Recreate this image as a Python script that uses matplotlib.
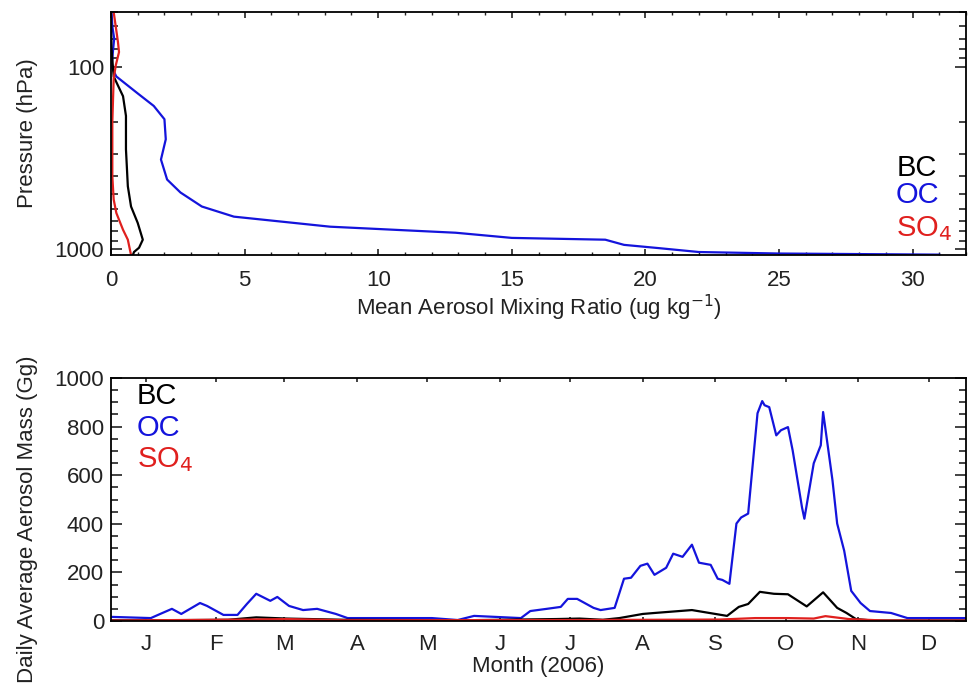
import matplotlib
matplotlib.use("Agg")
import matplotlib.pyplot as plt
from matplotlib.ticker import FixedLocator, FixedFormatter, MultipleLocator

plt.rcParams['font.family'] = ['Liberation Sans', 'DejaVu Sans']

# ---------------- Top panel: vertical profiles ----------------
p_oc = [50, 60, 70, 80, 90, 100, 113, 140, 164, 194, 250, 323, 416, 490, 585, 665, 755,
        815, 870, 890, 950, 990, 1040, 1060, 1075]
oc_prof = [0.02, 0.05, 0.12, 0.08, 0.05, 0.02, 0.2, 1.0, 1.6, 2.0, 2.05, 1.87, 2.1, 2.6, 3.4,
           4.6, 8.2, 12.9, 15.0, 18.5, 19.2, 20.5, 22.0, 25.0, 31.0]

p_bc = [50, 80, 113, 145, 186, 284, 453, 585, 720, 890, 985, 1040, 1080]
bc_prof = [0.0, 0.02, 0.1, 0.45, 0.56, 0.56, 0.63, 0.75, 1.0, 1.19, 1.05, 0.86, 0.82]

p_so4 = [50, 73, 83, 98, 116, 200, 400, 535, 635, 785, 890, 1080]
so4_prof = [0.1, 0.26, 0.3, 0.18, 0.1, 0.05, 0.05, 0.1, 0.2, 0.45, 0.63, 0.75]

# ---------------- Bottom panel: daily time series ----------------
days_oc = [0, 17, 21, 26, 30, 38, 41, 48, 54, 58, 62, 68, 71, 76, 82, 88, 96, 101, 123, 137,
           148, 155, 175, 179, 186, 192, 195, 199, 206, 209, 215, 219, 222, 226, 229, 232, 237,
           240, 244, 248, 251, 256, 259, 261, 264, 267, 269, 272, 274, 276, 278, 279, 281, 284,
           286, 289, 291, 295, 296, 300, 303, 304, 308, 310, 313, 316, 320, 324, 333, 340, 347, 365]
oc_mass = [17, 12, 29, 50, 29, 74, 62, 25, 25, 70, 112, 83, 99, 62, 45, 50, 29, 12, 12, 12,
           4, 21, 12, 41, 50, 58, 91, 91, 54, 45, 54, 174, 178, 227, 236, 190, 219,
           277, 264, 314, 240, 231, 174, 169, 153, 401, 426, 442, 649, 855, 905, 888, 880, 764,
           785, 798, 702, 467, 421, 649, 723, 860, 579, 401, 289, 124, 74, 41, 33, 12, 12, 12]

days_bc = [0, 20, 50, 62, 75, 100, 150, 190, 200, 210, 217, 227, 232, 248, 263, 268, 272, 277,
           283, 289, 297, 304, 310, 314, 318, 325, 365]
bc_mass = [3, 3, 5, 15, 10, 5, 3, 8, 10, 5, 12, 29, 33, 45, 21, 58, 70, 120,
           112, 110, 60, 118, 54, 33, 8, 2, 2]

days_so4 = [0, 60, 75, 100, 200, 230, 260, 275, 289, 300, 305, 315, 330, 365]
so4_mass = [2, 6, 8, 3, 4, 5, 6, 12, 12, 10, 20, 8, 2, 2]

month_labels = ['J', 'F', 'M', 'A', 'M', 'J', 'J', 'A', 'S', 'O', 'N', 'D']
month_mid = [15, 45, 74, 105, 135, 166, 196, 227, 258, 288, 319, 349]

BLUE = '#1414dc'
RED = '#e0201e'
BLACK = '#000000'
TXT = '#222222'
LW = 1.6
FS = 16
LEG = 21

fig = plt.figure(figsize=(9.68, 6.88), dpi=100)

# ---- top axes
ax1 = fig.add_axes([111/968, 1 - 255/688, (966-111)/968, (255-12)/688])
ax1.plot(oc_prof, p_oc, color=BLUE, lw=LW)
ax1.plot(bc_prof, p_bc, color=BLACK, lw=LW)
ax1.plot(so4_prof, p_so4, color=RED, lw=LW)
ax1.set_yscale('log')
ax1.set_ylim(1080, 50)
ax1.set_xlim(0, 32)
ax1.yaxis.set_major_locator(FixedLocator([100, 1000]))
ax1.yaxis.set_major_formatter(FixedFormatter(['100', '1000']))
ax1.yaxis.set_minor_locator(FixedLocator([50, 60, 70, 80, 90, 200, 300, 400, 500, 600, 700, 800, 900]))
ax1.yaxis.set_minor_formatter(FixedFormatter([''] * 13))
ax1.xaxis.set_major_locator(MultipleLocator(5))
ax1.xaxis.set_minor_locator(MultipleLocator(1))
ax1.tick_params(axis='both', which='both', direction='in', top=True, right=True,
                labelsize=FS, colors=TXT)
ax1.tick_params(axis='y', which='major', length=8, width=1.2, pad=5)
ax1.tick_params(axis='y', which='minor', length=5, width=1.2)
ax1.tick_params(axis='x', which='major', length=4, width=1.2, pad=11)
ax1.tick_params(axis='x', which='minor', length=2.5, width=1.0)
ax1.set_ylabel('Pressure (hPa)', fontsize=FS, color=TXT, labelpad=12)
ax1.set_xlabel('Mean Aerosol Mixing Ratio (ug kg$^{-1}$)', fontsize=FS, color=TXT, labelpad=1)
for sp in ax1.spines.values():
    sp.set_linewidth(1.3)
t_kw = dict(transform=ax1.transAxes, fontsize=LEG, ha='right', va='center')
ax1.text(0.966, 0.36, 'BC', color=BLACK, **t_kw)
ax1.text(0.969, 0.245, 'OC', color=BLUE, **t_kw)
ax1.text(0.984, 0.11, 'SO$_4$', color=RED, **t_kw)

# ---- bottom axes
ax2 = fig.add_axes([111/968, 1 - 621/688, (966-111)/968, (621-378)/688])
ax2.plot(days_oc, oc_mass, color=BLUE, lw=LW)
ax2.plot(days_bc, bc_mass, color=BLACK, lw=LW)
ax2.plot(days_so4, so4_mass, color=RED, lw=LW)
ax2.set_xlim(0, 365)
ax2.set_ylim(0, 1000)
ax2.xaxis.set_major_locator(FixedLocator(month_mid))
ax2.xaxis.set_major_formatter(FixedFormatter(month_labels))
ax2.yaxis.set_major_locator(MultipleLocator(200))
ax2.yaxis.set_minor_locator(MultipleLocator(50))
ax2.tick_params(axis='both', which='both', direction='in', top=True, right=True,
                labelsize=FS, colors=TXT)
ax2.tick_params(axis='y', which='major', length=8, width=1.2, pad=5)
ax2.tick_params(axis='y', which='minor', length=5, width=1.2)
ax2.tick_params(axis='x', which='major', length=3, width=1.2, pad=9)
ax2.set_ylabel('Daily Average Aerosol Mass (Gg)', fontsize=FS, color=TXT, labelpad=12)
ax2.yaxis.label.set_y(0.42)
ax2.set_xlabel('Month (2006)', fontsize=FS, color=TXT, labelpad=1)
for sp in ax2.spines.values():
    sp.set_linewidth(1.3)
b_kw = dict(transform=ax2.transAxes, fontsize=LEG, ha='left', va='center')
ax2.text(0.030, 0.925, 'BC', color=BLACK, **b_kw)
ax2.text(0.030, 0.795, 'OC', color=BLUE, **b_kw)
ax2.text(0.030, 0.665, 'SO$_4$', color=RED, **b_kw)

fig.savefig('out.png', dpi=100)
